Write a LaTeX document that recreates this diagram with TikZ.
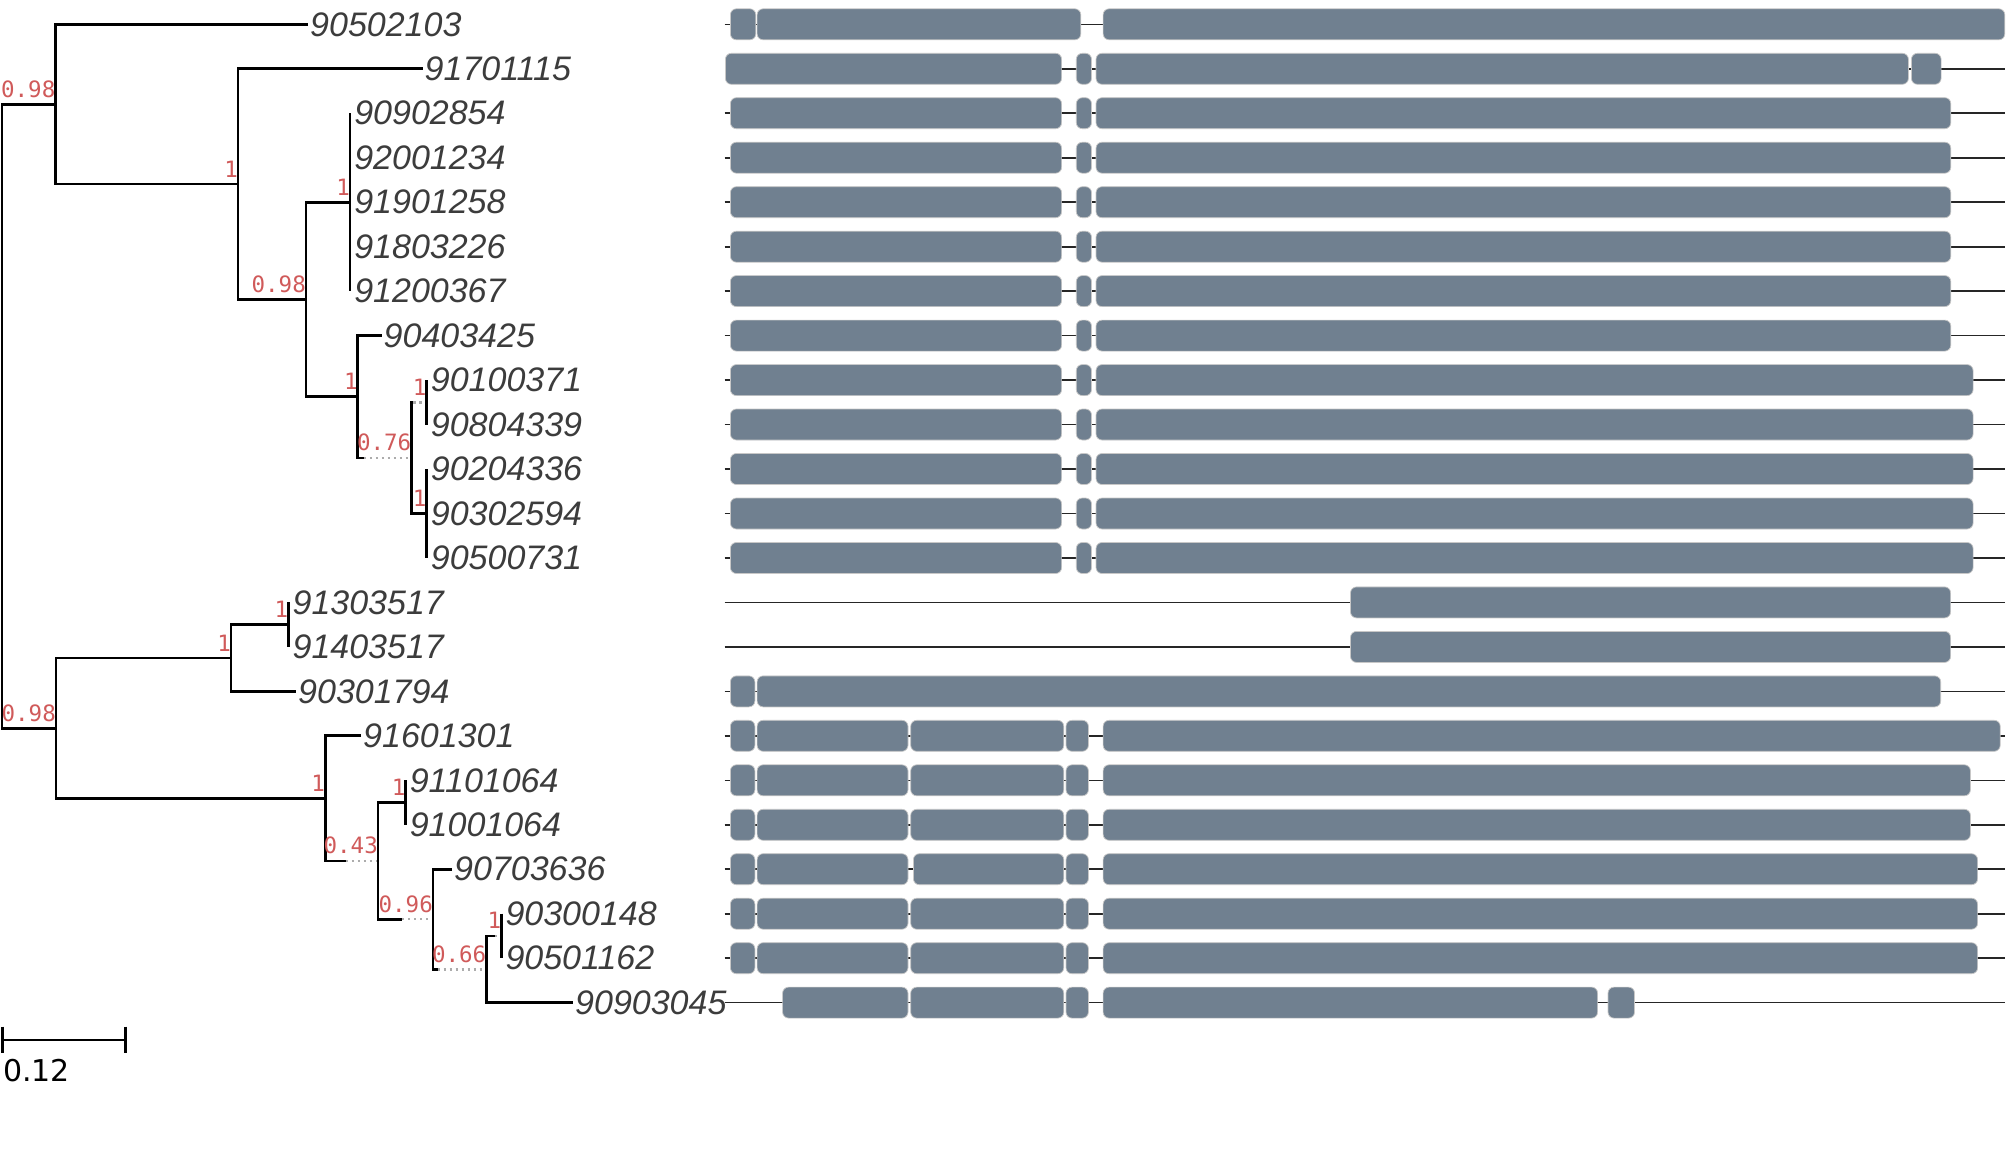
\documentclass[tikz,border=0pt]{standalone}
\usepackage{fontspec}
\setmainfont{Liberation Sans}
\newfontfamily\leaffont{Liberation Sans}
\newfontfamily\bsfont{DejaVu Sans Mono}
\newfontfamily\scalebarfont{DejaVu Sans}
\usetikzlibrary{calc}
\definecolor{exon}{HTML}{708090}
\definecolor{bsred}{HTML}{D05A5A}
\definecolor{leafgray}{HTML}{3C3C3C}
\newcommand{\gx}[3]{\draw[exonbox] (#2,#1-15.5) rectangle (#3,#1+15.5);}
\newcommand{\intr}[1]{\draw[intron] (724.6,#1) -- (2005,#1);}
\begin{document}
\begin{tikzpicture}[x=1pt,y=-1pt,
  br/.style={line width=2.7pt, black},
  dotbr/.style={line width=2.4pt, color=gray!65, dash pattern=on 2.4pt off 3.6pt},
  leaf/.style={anchor=west, inner xsep=2pt, inner ysep=0pt, font=\leaffont\itshape\fontsize{34}{40}\selectfont, text=leafgray},
  leafz/.style={leaf, inner xsep=4pt},
  bs/.style={anchor=base east, inner sep=0pt, yshift=7pt, font=\bsfont\fontsize{22.5}{25}\selectfont, text=bsred},
  intron/.style={line width=1.6pt, black!85},
  exonbox/.style={fill=exon, draw=black!22, line width=0.7pt, rounded corners=6pt},
]
\fill[white] (0,0) rectangle (2007,1151);
\useasboundingbox (0,0) rectangle (2007,1151);

% ---------- internal nodes ----------
\coordinate (R) at (2,416.2);
\coordinate (A) at (55.5,104.2);
\coordinate (B) at (238,184.1);
\coordinate (C) at (306,299.5);
\coordinate (D) at (350.1,202.2);
\coordinate (E) at (357.8,396.75);
\coordinate (F) at (411.4,457.9);
\coordinate (G) at (426.7,402.3);
\coordinate (H) at (426.7,513.5);
\coordinate (I) at (56,728.2);
\coordinate (J) at (231,658);
\coordinate (K) at (288.4,624.65);
\coordinate (L) at (325.2,798.35);
\coordinate (M) at (378,860.9);
\coordinate (N) at (405.6,802.55);
\coordinate (O) at (433,919.25);
\coordinate (P) at (486.4,969.3);
\coordinate (Q) at (501.3,935.95);

% ---------- leaves ----------
\node[leaf]  (l0)  at (308,24.3)    {90502103};
\node[leaf]  (l1)  at (422.5,68.8)  {91701115};
\node[leafz] (l2)  at (350.1,113.2) {90902854};
\node[leafz] (l3)  at (350.1,157.7) {92001234};
\node[leafz] (l4)  at (350.1,202.2) {91901258};
\node[leafz] (l5)  at (350.1,246.7) {91803226};
\node[leafz] (l6)  at (350.1,291.1) {91200367};
\node[leaf]  (l7)  at (381.5,335.6) {90403425};
\node[leafz] (l8)  at (426.7,380.1) {90100371};
\node[leafz] (l9)  at (426.7,424.5) {90804339};
\node[leafz] (l10) at (426.7,469.0) {90204336};
\node[leafz] (l11) at (426.7,513.5) {90302594};
\node[leafz] (l12) at (426.7,558.0) {90500731};
\node[leafz] (l13) at (288.4,602.4) {91303517};
\node[leafz] (l14) at (288.4,646.9) {91403517};
\node[leaf]  (l15) at (296,691.4)   {90301794};
\node[leaf]  (l16) at (361,735.8)   {91601301};
\node[leafz] (l17) at (405.6,780.3) {91101064};
\node[leafz] (l18) at (405.6,824.8) {91001064};
\node[leaf]  (l19) at (452,869.2)   {90703636};
\node[leafz] (l20) at (501.3,913.7) {90300148};
\node[leafz] (l21) at (501.3,958.2) {90501162};
\node[leaf]  (l22) at (573,1002.6)  {90903045};

% ---------- branches ----------
\draw[br] (A) -| (R) |- (I);
\draw[br] (l0.west) -| (A) |- (B);
\draw[br] (l1.west) -| (B) |- (C);
\draw[br] (D) -| (C) |- (E);
\draw[br] (D |- l2.west) -- (D |- l6.west);
\coordinate (Es) at ($(E |- F)+(6,0)$);
\draw[br] (l7.west) -| (E) |- (Es);
\draw[dotbr] (Es) -- (F);
\coordinate (Fs) at ($(F |- G)+(2,0)$);
\draw[br] (Fs) -| (F) |- (H);
\draw[dotbr] (Fs) -- (G);
\draw[br] (G |- l8.west) -- (G |- l9.west);
\draw[br] (H |- l10.west) -- (H |- l12.west);
\draw[br] (J) -| (I) |- (L);
\draw[br] (K) -| (J) |- (l15.west);
\draw[br] (K |- l13.west) -- (K |- l14.west);
\coordinate (Ls) at ($(L |- M)+(20.6,0)$);
\draw[br] (l16.west) -| (L) |- (Ls);
\draw[dotbr] (Ls) -- (M);
\coordinate (Ms) at ($(M |- O)+(24,0)$);
\draw[br] (N) -| (M) |- (Ms);
\draw[dotbr] (Ms) -- (O);
\draw[br] (N |- l17.west) -- (N |- l18.west);
\coordinate (Os) at ($(O |- P)+(4.7,0)$);
\draw[br] (l19.west) -| (O) |- (Os);
\draw[dotbr] (Os) -- (P);
\coordinate (Ps) at ($(P |- Q)+(8.6,0)$);
\draw[br] (Ps) -| (P) |- (l22.west);
\draw[dotbr] (Ps) -- (Q);
\draw[br] (Q |- l20.west) -- (Q |- l21.west);

% ---------- support values ----------
\node[bs] (bA) at (A) {0.98};
\node[bs] (bB) at (B) {1};
\node[bs] (bC) at (C) {0.98};
\node[bs] (bD) at (D) {1};
\node[bs] (bE) at (E) {1};
\node[bs] (bF) at (F) {0.76};
\node[bs] (bG) at (G) {1};
\node[bs] (bH) at (H) {1};
\node[bs] (bI) at (I) {0.98};
\node[bs] (bJ) at (J) {1};
\node[bs] (bK) at (K) {1};
\node[bs] (bL) at (L) {1};
\node[bs] (bM) at (M) {0.43};
\node[bs] (bN) at (N) {1};
\node[bs] (bO) at (O) {0.96};
\node[bs] (bP) at (P) {0.66};
\node[bs] (bQ) at (Q) {1};

% ---------- scale bar ----------
\draw[br] (2.4,1040) -- (125.8,1040);
\draw[br] (2.4,1026.7) -- (2.4,1053.3);
\draw[br] (125.8,1026.7) -- (125.8,1053.3);
\node[anchor=base west, inner sep=0pt, font=\scalebarfont\fontsize{30}{36}\selectfont] (sc) at (3,1081.7) {0.12};

% ---------- gene structures ----------
\foreach \y in {24.3,113.2,157.7,202.2,246.7,291.1,335.6,380.1,424.5,469.0,513.5,558.0,602.4,646.9,691.4,735.8,780.3,824.8,869.2,913.7,958.2,1002.6} {\intr{\y}}
\draw[intron] (725.4,68.8) -- (2005,68.8);

\gx{24.3}{730.4}{755.8}\gx{24.3}{757.1}{1080.8}\gx{24.3}{1103.1}{2004.8}
\gx{68.8}{725.4}{1061.6}\gx{68.8}{1076.3}{1091.5}\gx{68.8}{1096}{1908.4}\gx{68.8}{1911.4}{1941.1}
\foreach \y in {113.2,157.7,202.2,246.7,291.1,335.6} {\gx{\y}{730.4}{1061.6}\gx{\y}{1076.3}{1091.5}\gx{\y}{1096}{1950.8}}
\foreach \y in {380.1,424.5,469.0,513.5,558.0} {\gx{\y}{730.4}{1061.6}\gx{\y}{1076.3}{1091.5}\gx{\y}{1096}{1973.1}}
\foreach \y in {602.4,646.9} {\gx{\y}{1350.5}{1950.6}}
\gx{691.4}{730.4}{754.9}\gx{691.4}{757.1}{1940.7}
\gx{735.8}{730.4}{754.9}\gx{735.8}{757.1}{908}\gx{735.8}{910.7}{1063.8}\gx{735.8}{1066}{1088.4}\gx{735.8}{1103.1}{2000.2}
\foreach \y in {780.3,824.8} {\gx{\y}{730.4}{754.9}\gx{\y}{757.1}{908}\gx{\y}{910.7}{1063.8}\gx{\y}{1066}{1088.4}\gx{\y}{1103.1}{1970.4}}
\gx{869.2}{730.4}{754.9}\gx{869.2}{757.1}{908}\gx{869.2}{913.4}{1063.8}\gx{869.2}{1066}{1088.4}\gx{869.2}{1103.1}{1977.6}
\foreach \y in {913.7,958.2} {\gx{\y}{730.4}{754.9}\gx{\y}{757.1}{908}\gx{\y}{910.7}{1063.8}\gx{\y}{1066}{1088.4}\gx{\y}{1103.1}{1977.6}}
\gx{1002.6}{782.6}{908}\gx{1002.6}{910.7}{1063.8}\gx{1002.6}{1066}{1088.4}\gx{1002.6}{1103.1}{1597.6}\gx{1002.6}{1608}{1634.5}
\end{tikzpicture}
\end{document}
